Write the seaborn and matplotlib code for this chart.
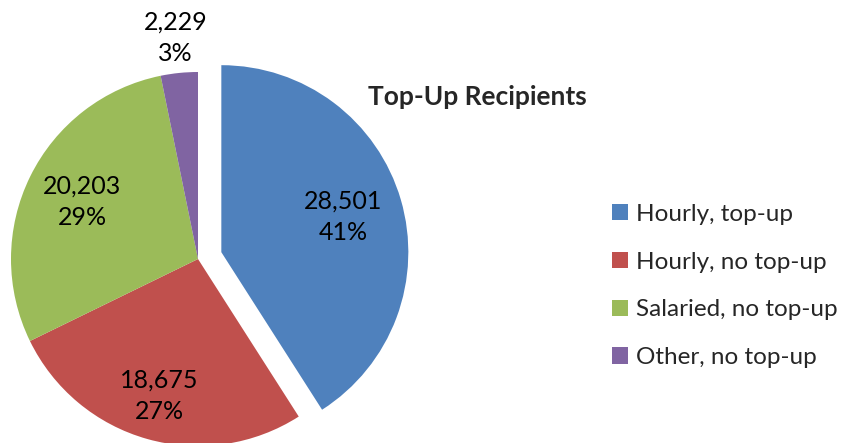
import matplotlib
matplotlib.use("Agg")
import matplotlib.pyplot as plt
import seaborn as sns

# Datos del gráfico
categorias = ['Hourly, top-up', 'Hourly, no top-up', 'Salaried, no top-up', 'Other, no top-up']
valores = [28501, 18675, 20203, 2229]
colores = ['#4F81BD', '#C0504D', '#9BBB59', '#8064A2']
separacion = [0.13, 0, 0, 0]
dist_etiquetas = [0.68, 0.76, 0.69, 1.19]  # distancia de cada etiqueta al centro
titulo = 'Top-Up Recipients'

sns.set_style('white')
plt.rcParams['font.family'] = ['Lato', 'DejaVu Sans']

total = sum(valores)

W, H = 843, 443
fig = plt.figure(figsize=(W / 100, H / 100), dpi=100)

# Ejes cuadrados: radio 1 = 187 px, centro en (198, 259) px desde arriba
r_px = 187
lado = 2 * 1.25 * r_px
cx, cy = 198, H - 259
ax = fig.add_axes([(cx - lado / 2) / W, (cy - lado / 2) / H, lado / W, lado / H])

def etiqueta(pct):
    v = int(round(pct * total / 100))
    return f'{v:,}\n{pct:.0f}%'

base = 0.7
wedges, textos, autotextos = ax.pie(
    valores, colors=colores, explode=separacion, startangle=90, counterclock=False,
    autopct=etiqueta, pctdistance=base, radius=1,
    wedgeprops=dict(linewidth=0),
    textprops=dict(fontsize=18, color='black', linespacing=1.45),
)
# cada etiqueta a su propia distancia (la pequeña va fuera del pastel)
for t, w, d in zip(autotextos, wedges, dist_etiquetas):
    x, y = t.get_position()
    ox, oy = w.center
    t.set_position((ox + (x - ox) * d / base, oy + (y - oy) * d / base))

ax.set_xlim(-1.25, 1.25)
ax.set_ylim(-1.25, 1.25)
ax.set_aspect('equal')
ax.axis('off')

fig.text(477 / W, 1 - 97 / H, titulo, ha='center', va='center',
         fontsize=19, fontweight='bold')

fig.legend(wedges, categorias, loc='center left', bbox_to_anchor=(612 / W, 1 - 286 / H),
           frameon=False, fontsize=17.5, handlelength=0.65, handleheight=0.65,
           handletextpad=0.35, labelspacing=1.1, borderpad=0, borderaxespad=0)

fig.savefig('out.png', dpi=100)
